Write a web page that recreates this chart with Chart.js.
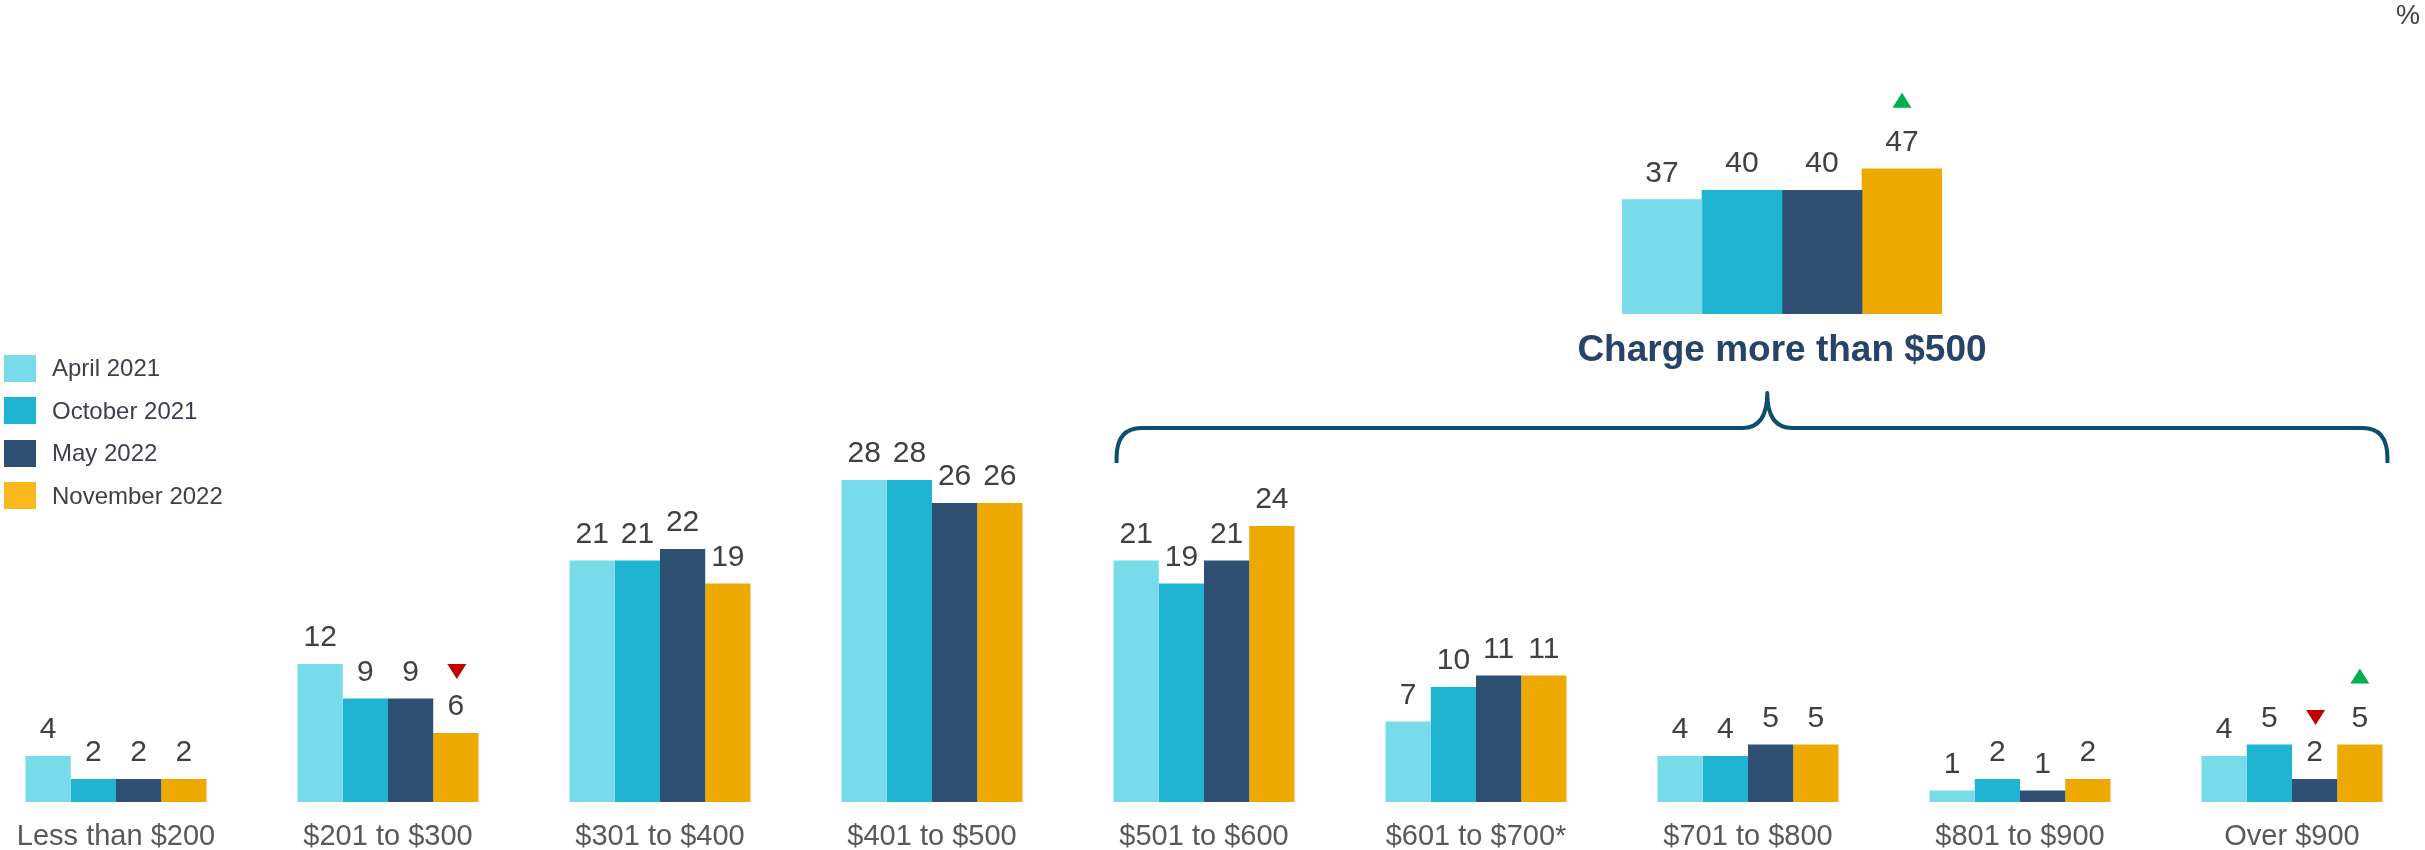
<!DOCTYPE html>
<html>
<head>
<meta charset="utf-8">
<script src="https://cdn.jsdelivr.net/npm/chart.js@4/dist/chart.umd.min.js"></script>
<style>
    html, body {
        margin: 0;
        padding: 0;
        background: #ffffff;
        width: 2425px;
        height: 850px;
        overflow: hidden;
        position: relative;
        font-family: 'Liberation Sans', Arial, sans-serif;
    }
    #mainWrap {
        position: absolute;
        left: -20px;
        top: 0;
        width: 2448px;
        height: 850px;
    }
    #insetWrap {
        position: absolute;
        left: 1422px;
        top: 0;
        width: 720px;
        height: 374px;
    }
    .legend {
        position: absolute;
        left: 4px;
        top: 347px;
    }
    .legend-row {
        display: flex;
        align-items: center;
        height: 42.5px;
    }
    .legend-swatch {
        width: 32px;
        height: 27px;
        margin-right: 16px;
    }
    .legend-text {
        font-size: 24px;
        color: #3e3e4e;
    }
    .unit {
        position: absolute;
        right: 5px;
        top: 0;
        font-size: 27px;
        color: #404040;
    }
</style>
</head>
<body>
<div id="mainWrap"><canvas id="mainChart"></canvas></div>
<div id="insetWrap"><canvas id="insetChart"></canvas></div>
<div class="legend" id="legend"></div>
<div class="unit">%</div>

<script>
const categories = [
    'Less than $200',
    '$201 to $300',
    '$301 to $400',
    '$401 to $500',
    '$501 to $600',
    '$601 to $700*',
    '$701 to $800',
    '$801 to $900',
    'Over $900',
];

const seriesNames = ['April 2021', 'October 2021', 'May 2022', 'November 2022'];

const april2021 = [4, 12, 21, 28, 21, 7, 4, 1, 4];
const october2021 = [2, 9, 21, 28, 19, 10, 4, 2, 5];
const may2022 = [2, 9, 22, 26, 21, 11, 5, 1, 2];
const november2022 = [2, 6, 19, 26, 24, 11, 5, 2, 5];

// significance arrows: 'up' / 'down' / null
const april2021Marks = [null, null, null, null, null, null, null, null, null];
const october2021Marks = [null, null, null, null, null, null, null, null, null];
const may2022Marks = [null, null, null, null, null, null, null, null, 'down'];
const november2022Marks = [null, 'down', null, null, null, null, null, null, 'up'];

const summaryCategory = ['Charge more than $500'];
const summaryValues = [[37], [40], [40], [47]];
const summaryMarks = [[null], [null], [null], ['up']];

const seriesColors = ['#77dbea', '#1fb5d2', '#2f5073', '#eda900'];
const legendColors = ['#77dbea', '#1fb5d2', '#2f5073', '#fbb81c'];

(function () {
    const FONT = "'Liberation Sans', Arial, sans-serif";

    function drawTriangle(ctx, x, y, dir) {
        const w = 19;
        const h = 15;

        ctx.beginPath();
        if (dir === 'down') {
            ctx.fillStyle = '#c00000';
            ctx.moveTo(x - w / 2, y - h);
            ctx.lineTo(x + w / 2, y - h);
            ctx.lineTo(x, y);
        } else {
            ctx.fillStyle = '#00b050';
            ctx.moveTo(x - w / 2, y);
            ctx.lineTo(x + w / 2, y);
            ctx.lineTo(x, y - h);
        }
        ctx.closePath();
        ctx.fill();
    }

    const valueLabelPlugin = {
        id: 'valueLabels',
        afterDatasetsDraw(chart) {
            const ctx = chart.ctx;

            ctx.save();
            ctx.font = '30px ' + FONT;
            ctx.textAlign = 'center';
            ctx.textBaseline = 'alphabetic';

            chart.data.datasets.forEach((ds, di) => {
                const meta = chart.getDatasetMeta(di);

                meta.data.forEach((bar, i) => {
                    const baseY = bar.y - 18;

                    ctx.fillStyle = '#404040';
                    ctx.fillText(String(ds.data[i]), bar.x, baseY);

                    const mark = ds.marks ? ds.marks[i] : null;

                    if (mark === 'down') drawTriangle(ctx, bar.x + 1, baseY - 36, 'down');
                    if (mark === 'up') drawTriangle(ctx, bar.x, baseY - 43, 'up');
                });
            });

            ctx.restore();
        },
    };

    // curly brace over the "more than $500" categories
    const bracePlugin = {
        id: 'brace',
        afterDraw(chart, args, opts) {
            if (!opts || !opts.display) return;

            const x = chart.scales.x;
            const groupW = (x.getPixelForValue(1) - x.getPixelForValue(0)) * 0.665;

            const left = x.getPixelForValue(opts.from) - groupW / 2 + 3;
            const right = x.getPixelForValue(opts.to) + groupW / 2 + 5;
            const mid = left + (right - left) * 0.512;

            const yTop = 393;
            const yLine = 428;
            const yEnd = 463;
            const r = 25;

            const ctx = chart.ctx;

            ctx.save();
            ctx.strokeStyle = '#0b4f6e';
            ctx.lineWidth = 4;
            ctx.lineJoin = 'round';
            ctx.beginPath();
            ctx.moveTo(left, yEnd);
            ctx.lineTo(left, yLine + r + 5);
            ctx.quadraticCurveTo(left, yLine, left + r, yLine);
            ctx.lineTo(mid - r, yLine);
            ctx.quadraticCurveTo(mid, yLine, mid, yTop);
            ctx.quadraticCurveTo(mid, yLine, mid + r, yLine);
            ctx.lineTo(right - r, yLine);
            ctx.quadraticCurveTo(right, yLine, right, yLine + r + 5);
            ctx.lineTo(right, yEnd);
            ctx.stroke();
            ctx.restore();
        },
    };

    function buildDatasets(valueSets, markSets) {
        return valueSets.map((values, i) => ({
            label: seriesNames[i],
            data: values,
            marks: markSets[i],
            backgroundColor: seriesColors[i],
            borderWidth: 0,
            categoryPercentage: 1,
            barPercentage: 1,
        }));
    }

    function createMainChart() {
        const canvas = document.getElementById('mainChart');
        const datasets = buildDatasets(
            [april2021, october2021, may2022, november2022],
            [april2021Marks, october2021Marks, may2022Marks, november2022Marks]
        );

        datasets.forEach((ds) => {
            ds.categoryPercentage = 0.665;
        });

        new Chart(canvas.getContext('2d'), {
            type: 'bar',
            data: {
                labels: categories,
                datasets,
            },
            plugins: [valueLabelPlugin, bracePlugin],
            options: {
                responsive: true,
                maintainAspectRatio: false,
                animation: false,
                devicePixelRatio: 1,
                layout: {
                    padding: { top: 112, left: 0, right: 0, bottom: 0 },
                },
                plugins: {
                    legend: { display: false },
                    tooltip: { enabled: false },
                    brace: { display: true, from: 4, to: 8 },
                },
                scales: {
                    x: {
                        grid: { display: false, drawTicks: false },
                        border: { display: false },
                        ticks: {
                            color: '#595959',
                            padding: 18,
                            font: { family: FONT, size: 29 },
                        },
                        afterFit: function (scale) {
                            scale.height = 48;
                        },
                    },
                    y: {
                        display: false,
                        min: 0,
                        max: 60,
                    },
                },
            },
        });
    }

    function createInsetChart() {
        const canvas = document.getElementById('insetChart');

        new Chart(canvas.getContext('2d'), {
            type: 'bar',
            data: {
                labels: summaryCategory,
                datasets: buildDatasets(summaryValues, summaryMarks),
            },
            plugins: [valueLabelPlugin],
            options: {
                responsive: true,
                maintainAspectRatio: false,
                animation: false,
                devicePixelRatio: 1,
                layout: {
                    padding: { top: 5, left: 200, right: 200, bottom: 0 },
                },
                plugins: {
                    legend: { display: false },
                    tooltip: { enabled: false },
                },
                scales: {
                    x: {
                        grid: { display: false, drawTicks: false },
                        border: { display: false },
                        ticks: {
                            color: '#254467',
                            padding: 15,
                            font: { family: FONT, size: 37, weight: 'bold' },
                        },
                        afterFit: function (scale) {
                            scale.height = 60;
                        },
                    },
                    y: {
                        display: false,
                        min: 0,
                        max: 100,
                    },
                },
            },
        });
    }

    function buildLegend() {
        const root = document.getElementById('legend');

        seriesNames.forEach((name, i) => {
            const row = document.createElement('div');
            row.className = 'legend-row';

            const swatch = document.createElement('div');
            swatch.className = 'legend-swatch';
            swatch.style.background = legendColors[i];

            const text = document.createElement('span');
            text.className = 'legend-text';
            text.textContent = name;

            row.appendChild(swatch);
            row.appendChild(text);
            root.appendChild(row);
        });
    }

    function init() {
        buildLegend();
        createMainChart();
        createInsetChart();
    }

    if (document.readyState === 'loading') {
        document.addEventListener('DOMContentLoaded', init);
    } else {
        init();
    }
})();
</script>
</body>
</html>
